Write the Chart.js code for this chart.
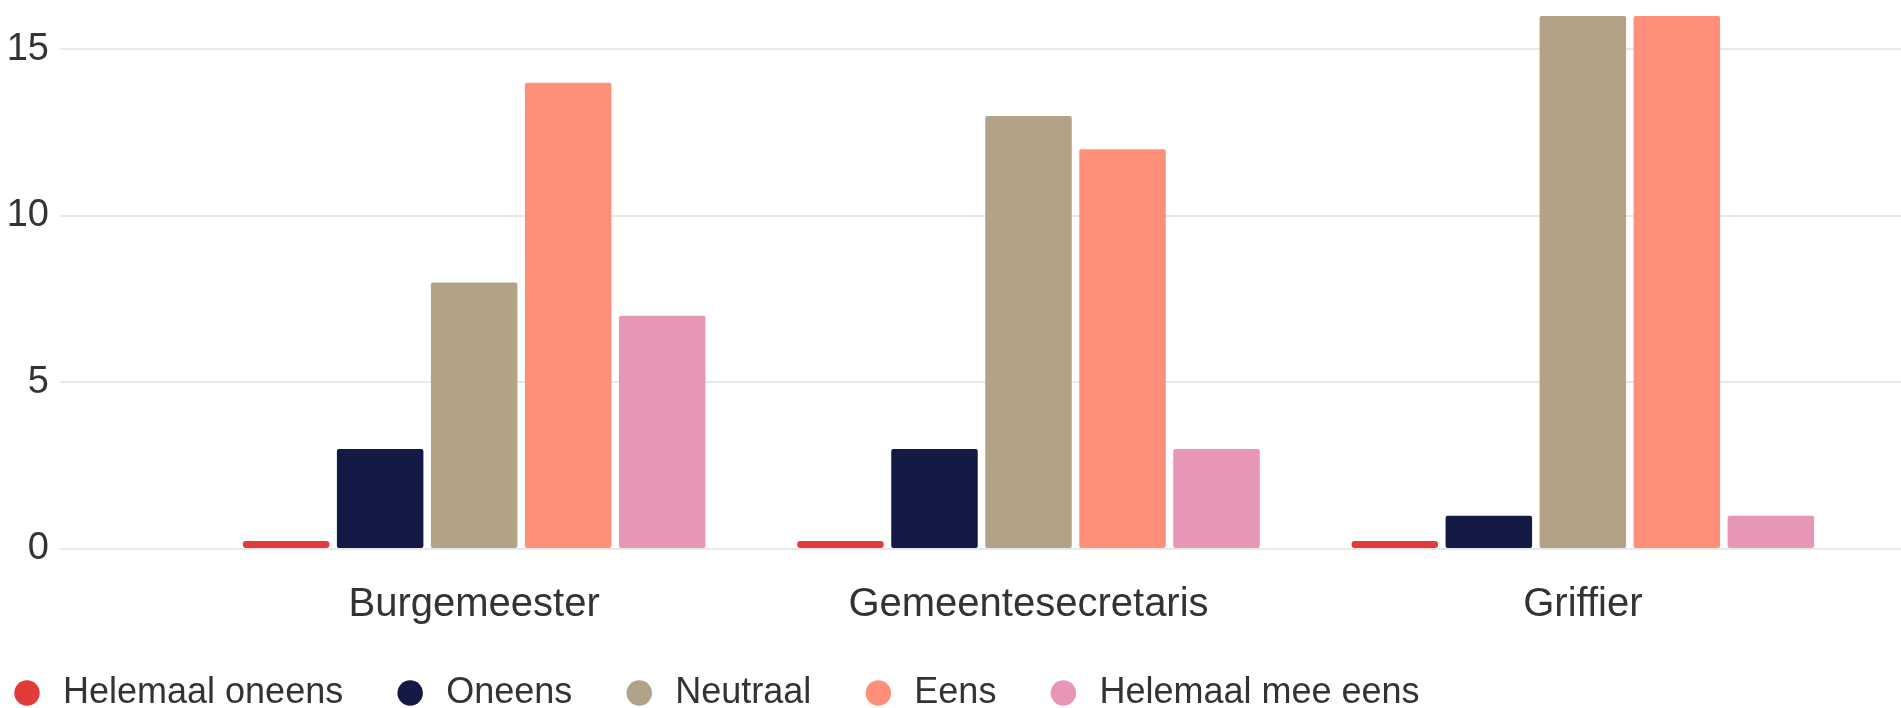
<!DOCTYPE html>
<html>
<head>
<meta charset="utf-8">
<script src="https://cdn.jsdelivr.net/npm/chart.js@4/dist/chart.umd.min.js"></script>
<style>
  html, body { margin: 0; padding: 0; overflow: hidden; background: #fff; }
  #wrap { position: absolute; left: -40px; top: 0; width: 1941px; height: 721px; }
</style>
</head>
<body>
<div id="wrap"><canvas id="c"></canvas></div>
<script>
const categories = ['Burgemeester', 'Gemeentesecretaris', 'Griffier'];
const seriesNames = ['Helemaal oneens', 'Oneens', 'Neutraal', 'Eens', 'Helemaal mee eens'];
const helemaalOneens = [0, 0, 0];
const oneens = [3, 3, 1];
const neutraal = [8, 13, 16];
const eens = [14, 12, 16];
const helemaalMeeEens = [7, 3, 1];
const yTicks = [0, 5, 10, 15];
const yMax = 16;

const colors = ['#e23b3b', '#121a45', '#b2a287', '#ff8f78', '#e896b7'];
const seriesValues = [helemaalOneens, oneens, neutraal, eens, helemaalMeeEens];

const FONT = '"Liberation Sans", Arial, Helvetica, sans-serif';
const TEXT = '#333333';
const GRID = '#e9e9e9';

function setTicks(scale) {
  scale.ticks = yTicks.map(v => ({ value: v }));
}

new Chart(document.getElementById('c'), {
  type: 'bar',
  data: {
    labels: categories,
    datasets: seriesNames.map((name, i) => ({
      label: name,
      data: seriesValues[i],
      backgroundColor: colors[i],
      borderWidth: 0,
      borderRadius: i === 0 ? 3 : 2,
      borderSkipped: false,
      minBarLength: i === 0 ? 8 : 0,
      categoryPercentage: 0.848,
      barPercentage: 0.92
    }))
  },
  options: {
    responsive: true,
    maintainAspectRatio: false,
    animation: false,
    layout: { padding: { top: 16, left: 0, right: 0, bottom: 0 } },
    plugins: {
      tooltip: { enabled: false },
      legend: {
        position: 'bottom',
        align: 'start',
        labels: {
          usePointStyle: true,
          pointStyle: 'circle',
          boxWidth: 36,
          boxHeight: 18,
          padding: 49,
          color: TEXT,
          font: { family: FONT, size: 36 }
        }
      }
    },
    scales: {
      x: {
        grid: { display: false, drawTicks: false },
        border: { display: false },
        ticks: {
          padding: 32,
          color: TEXT,
          font: { family: FONT, size: 40 },
          maxRotation: 0
        },
        afterFit: s => { s.height -= 35; }
      },
      y: {
        min: 0,
        max: yMax,
        afterBuildTicks: setTicks,
        afterFit: s => { s.width = 237; s.paddingTop = 0; s.paddingBottom = 0; },
        grid: { color: GRID, lineWidth: 2, tickLength: 137, drawTicks: true },
        border: { display: false },
        ticks: {
          padding: 11,
          color: TEXT,
          font: { family: FONT, size: 38 }
        }
      },
      yR: {
        position: 'right',
        min: 0,
        max: yMax,
        afterBuildTicks: setTicks,
        afterFit: s => { s.width = 41; s.paddingTop = 0; s.paddingBottom = 0; },
        grid: { color: GRID, lineWidth: 2, tickLength: 41, drawOnChartArea: false, drawTicks: true },
        border: { display: false },
        ticks: { display: false }
      }
    }
  }
});
</script>
</body>
</html>
